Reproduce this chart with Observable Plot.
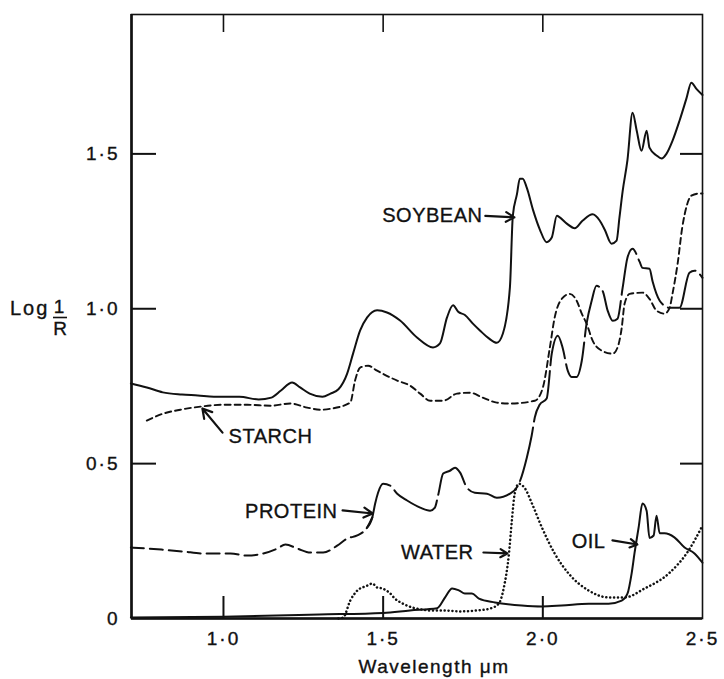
<!DOCTYPE html>
<html><head><meta charset="utf-8">
<script src="https://cdn.jsdelivr.net/npm/d3@7"></script>
<script src="https://cdn.jsdelivr.net/npm/@observablehq/plot@0.6"></script>
<style>
body{margin:0;background:#fff;}
svg text{font-family:"Liberation Sans", Arial, Helvetica, sans-serif;fill:#111;stroke:#111;stroke-width:0.35px;}
[aria-label="x-axis tick label"] text,[aria-label="y-axis tick label"] text{letter-spacing:2px;}
[aria-label="text"] text{letter-spacing:0.5px;}
</style></head><body><div id="chart"></div>
<script>
// Wavelength (µm), log(1/R)
const soybean = [[0.71,0.759],[0.76,0.746],[0.81,0.730],[0.87,0.723],[0.92,0.720],[0.97,0.716],[1.05,0.716],[1.11,0.707],[1.15,0.713],[1.18,0.736],[1.215,0.762],[1.24,0.746],[1.27,0.726],[1.31,0.716],[1.335,0.726],[1.36,0.740],[1.387,0.79],[1.406,0.856],[1.428,0.93],[1.45,0.972],[1.481,0.995],[1.512,0.988],[1.553,0.962],[1.606,0.907],[1.656,0.875],[1.678,0.888],[1.70,0.972],[1.719,1.011],[1.735,0.99],[1.756,0.98],[1.781,0.952],[1.803,0.93],[1.83,0.905],[1.856,0.89],[1.875,0.92],[1.897,1.07],[1.906,1.30],[1.919,1.37],[1.928,1.42],[1.937,1.42],[1.95,1.39],[1.969,1.32],[1.991,1.255],[2.012,1.215],[2.028,1.23],[2.044,1.30],[2.053,1.295],[2.075,1.275],[2.10,1.26],[2.125,1.285],[2.156,1.305],[2.178,1.285],[2.194,1.255],[2.215,1.21],[2.231,1.22],[2.24,1.295],[2.25,1.38],[2.265,1.48],[2.281,1.633],[2.294,1.575],[2.309,1.51],[2.325,1.575],[2.334,1.52],[2.356,1.495],[2.372,1.485],[2.387,1.50],[2.406,1.542],[2.428,1.607],[2.45,1.68],[2.465,1.73],[2.481,1.71],[2.5,1.69]];
const starch = [[0.76,0.639],[0.81,0.661],[0.865,0.674],[0.928,0.684],[1.0,0.690],[1.075,0.690],[1.147,0.687],[1.209,0.694],[1.262,0.681],[1.303,0.674],[1.334,0.677],[1.397,0.697],[1.412,0.768],[1.428,0.81],[1.453,0.816],[1.481,0.80],[1.544,0.768],[1.584,0.752],[1.616,0.726],[1.647,0.703],[1.688,0.703],[1.731,0.726],[1.772,0.729],[1.812,0.713],[1.856,0.697],[1.897,0.694],[1.975,0.703],[2.0,0.745],[2.022,0.875],[2.037,0.971],[2.062,1.035],[2.084,1.048],[2.106,1.026],[2.122,0.984],[2.137,0.952],[2.156,0.897],[2.184,0.865],[2.219,0.855],[2.234,0.875],[2.247,0.938],[2.256,1.016],[2.272,1.048],[2.312,1.052],[2.334,1.032],[2.356,0.994],[2.381,0.984],[2.397,1.003],[2.406,1.048],[2.422,1.145],[2.437,1.265],[2.45,1.33],[2.465,1.365],[2.49,1.372],[2.5,1.372]];
const protein = [[0.71,0.229],[0.76,0.226],[0.81,0.222],[0.875,0.216],[0.937,0.210],[0.98,0.210],[1.022,0.210],[1.075,0.203],[1.125,0.210],[1.169,0.226],[1.194,0.239],[1.231,0.226],[1.272,0.213],[1.312,0.213],[1.356,0.235],[1.387,0.258],[1.419,0.268],[1.45,0.294],[1.466,0.326],[1.475,0.371],[1.484,0.406],[1.50,0.435],[1.522,0.429],[1.544,0.403],[1.575,0.381],[1.616,0.358],[1.647,0.348],[1.662,0.358],[1.672,0.397],[1.688,0.468],[1.709,0.477],[1.725,0.487],[1.741,0.471],[1.762,0.423],[1.787,0.406],[1.825,0.403],[1.856,0.39],[1.897,0.403],[1.925,0.435],[1.95,0.52],[1.965,0.59],[1.975,0.65],[1.99,0.69],[2.012,0.71],[2.028,0.855],[2.047,0.913],[2.062,0.874],[2.078,0.80],[2.09,0.78],[2.106,0.78],[2.122,0.832],[2.137,0.952],[2.153,1.026],[2.168,1.074],[2.187,1.058],[2.203,0.994],[2.219,0.961],[2.234,0.968],[2.25,1.068],[2.265,1.165],[2.281,1.194],[2.303,1.152],[2.312,1.132],[2.334,1.129],[2.344,1.087],[2.366,1.026],[2.397,1.003],[2.428,1.003],[2.459,1.116],[2.475,1.123],[2.5,1.10]];
const water = [[1.36,0.0],[1.375,0.003],[1.397,0.058],[1.419,0.09],[1.45,0.106],[1.466,0.113],[1.481,0.10],[1.497,0.097],[1.522,0.081],[1.537,0.064],[1.562,0.048],[1.59,0.036],[1.606,0.032],[1.647,0.026],[1.688,0.026],[1.741,0.023],[1.794,0.026],[1.834,0.032],[1.862,0.048],[1.878,0.10],[1.894,0.21],[1.903,0.316],[1.912,0.403],[1.925,0.435],[1.944,0.42],[1.966,0.371],[1.997,0.294],[2.037,0.21],[2.081,0.145],[2.144,0.09],[2.206,0.068],[2.256,0.068],[2.319,0.097],[2.394,0.145],[2.456,0.219],[2.5,0.30]];
const oil = [[0.71,0.003],[1.0,0.006],[1.3,0.013],[1.5,0.018],[1.584,0.026],[1.669,0.033],[1.694,0.068],[1.716,0.097],[1.737,0.091],[1.756,0.081],[1.778,0.081],[1.80,0.064],[1.85,0.052],[1.934,0.042],[1.997,0.039],[2.059,0.042],[2.144,0.048],[2.206,0.048],[2.247,0.058],[2.265,0.08],[2.278,0.145],[2.287,0.21],[2.30,0.294],[2.312,0.371],[2.325,0.348],[2.334,0.26],[2.347,0.268],[2.356,0.332],[2.366,0.275],[2.381,0.275],[2.412,0.262],[2.444,0.229],[2.475,0.21],[2.5,0.18]];

const xTicks = [1.0, 1.5, 2.0, 2.5];
const yTicks = [0, 0.5, 1.0, 1.5];
const innerXTicks = [1.0, 1.5, 2.0];
const innerYTicks = [0.5, 1.0, 1.5];

const labelNames = ["SOYBEAN", "STARCH", "PROTEIN", "WATER", "OIL"];
const labelX = [1.811, 1.016, 1.357, 1.783, 2.196];
const labelY = [1.30, 0.588, 0.345, 0.213, 0.249];
const labelAnchor = ["end", "start", "end", "end", "end"];
const arrowFrom = [[1.82, 1.30], [0.997, 0.60], [1.373, 0.349], [1.814, 0.213], [2.218, 0.252]];
const arrowTo = [[1.911, 1.295], [0.934, 0.678], [1.467, 0.339], [1.889, 0.210], [2.296, 0.239]];

const xDomain = [0.712, 2.5];
const yDomain = [0, 1.95];

const rows = a => a.map(([x, y]) => ({x, y}));
const fmt = d => d === 0 ? "0" : d.toFixed(1).replace(".", "·");
const labels = labelNames.map((t, i) => ({t, x: labelX[i], y: labelY[i], a: labelAnchor[i]}));
const arrows = arrowFrom.map((f, i) => ({x1: f[0], y1: f[1], x2: arrowTo[i][0], y2: arrowTo[i][1]}));

const W = 724, H = 679, mL = 131, mR = 22, mT = 14, mB = 61;
const pw = W - mL - mR, ph = H - mT - mB;
const line = {x: "x", y: "y", stroke: "#111", curve: "monotone-x"};

const chart = Plot.plot({
  width: W, height: H,
  marginLeft: mL, marginRight: mR, marginTop: mT, marginBottom: mB,
  style: {fontSize: "19px", fontFamily: "Liberation Sans, Arial, sans-serif", background: "#fff", color: "#111"},
  x: {domain: xDomain, ticks: xTicks, tickFormat: fmt, tickSize: 0, tickPadding: 13, label: null},
  y: {domain: yDomain, ticks: yTicks, tickFormat: fmt, tickSize: 0, tickPadding: 12, label: null},
  marks: [
    Plot.frame({stroke: "#111", strokeWidth: 1.6}),
    Plot.ruleY([0], {stroke: "#111", strokeWidth: 2.6}),
    Plot.ruleX([xDomain[0]], {stroke: "#111", strokeWidth: 2.6}),
    Plot.tickX(innerXTicks, {x: d => d, insetTop: ph - 22, stroke: "#111", strokeWidth: 2}),
    Plot.tickX(innerXTicks, {x: d => d, insetBottom: ph - 18, stroke: "#111", strokeWidth: 1.6}),
    Plot.tickY(innerYTicks, {y: d => d, insetRight: pw - 25, stroke: "#111", strokeWidth: 2}),
    Plot.tickY(innerYTicks, {y: d => d, insetLeft: pw - 22, stroke: "#111", strokeWidth: 2}),
    Plot.line(rows(soybean), {...line, strokeWidth: 2}),
    Plot.line(rows(starch), {...line, strokeWidth: 1.9, strokeDasharray: "6,4"}),
    Plot.line(rows(protein).filter(d => d.x <= 1.466), {...line, strokeWidth: 2, strokeDasharray: "13,6"}),
    Plot.line(rows(protein).filter(d => d.x >= 1.45), {...line, strokeWidth: 2, strokeDasharray: "55,6"}),
    Plot.line(rows(water), {...line, strokeWidth: 2.5, strokeDasharray: "0.1,3.8", strokeLinecap: "round"}),
    Plot.line(rows(oil), {...line, strokeWidth: 2}),
    Plot.arrow(arrows, {x1: "x1", y1: "y1", x2: "x2", y2: "y2", stroke: "#111", strokeWidth: 2.2, headLength: 9, headAngle: 60}),
    Plot.text(labels.filter(d => d.a === "end"), {x: "x", y: "y", text: "t", textAnchor: "end", fontSize: 20, fill: "#111"}),
    Plot.text(labels.filter(d => d.a === "start"), {x: "x", y: "y", text: "t", textAnchor: "start", fontSize: 20, fill: "#111"})
  ]
});

const svg = d3.select(chart);
svg.append("text").attr("x", 10).attr("y", 315).attr("font-size", 20).attr("text-anchor", "start").attr("letter-spacing", "2px").text("Log");
svg.append("text").attr("x", 59).attr("y", 313).attr("font-size", 19).attr("text-anchor", "middle").text("1");
svg.append("line").attr("x1", 53).attr("x2", 67).attr("y1", 317.5).attr("y2", 317.5).attr("stroke", "#111").attr("stroke-width", 1.6);
svg.append("text").attr("x", 60).attr("y", 335).attr("font-size", 19).attr("text-anchor", "middle").text("R");
svg.append("text").attr("x", 434).attr("y", 673).attr("font-size", 19).attr("letter-spacing", "1.5px").attr("text-anchor", "middle").text("Wavelength μm");

document.getElementById("chart").appendChild(chart);
</script></body></html>
